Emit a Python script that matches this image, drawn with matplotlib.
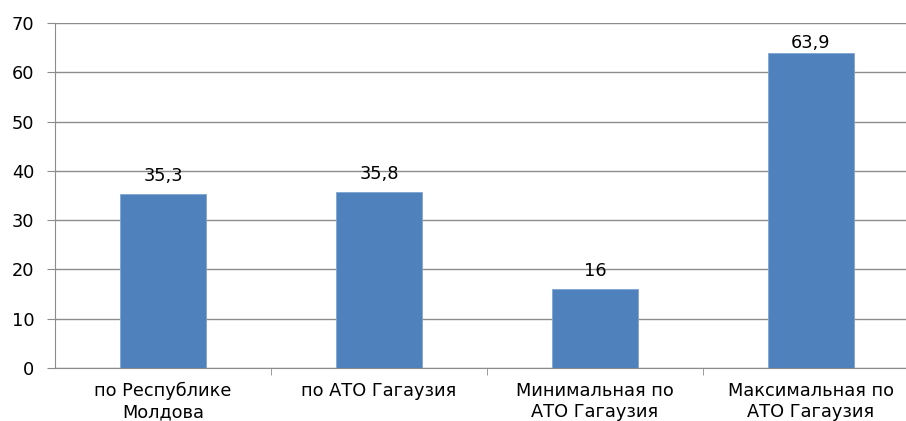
import matplotlib.pyplot as plt
import numpy as np

categories = ["по Республике\nМолдова", "по АТО Гагаузия",
              "Минимальная по\nАТО Гагаузия", "Максимальная по\nАТО Гагаузия"]
values = [35.3, 35.8, 16, 63.9]
value_labels = ["35,3", "35,8", "16", "63,9"]
yticks = [0, 10, 20, 30, 40, 50, 60, 70]

grid_color = "#8c8c8c"
bar_color = "#4f81bd"
fs = 12.8

fig = plt.figure(figsize=(9.06, 4.21), dpi=100)
ax = fig.add_axes([55 / 906, 53 / 421, 864 / 906, 345 / 421])

x = np.arange(len(categories))
bars = ax.bar(x, values, width=0.4, color=bar_color, edgecolor="#7fa4d3", linewidth=0.6, zorder=3)
for b, lab in zip(bars, value_labels):
    # label just above the bar, kept inside the plot near the top
    ly = min(b.get_height() + 3.65, 66)
    ax.text(b.get_x() + b.get_width() / 2, ly, lab,
            ha="center", va="center", fontsize=fs, color="black")

ax.set_xlim(-0.5, 3.5)
ax.set_ylim(0, 70)
ax.set_yticks(yticks)
ax.set_yticklabels([str(t) for t in yticks], fontsize=fs)
ax.yaxis.grid(True, color=grid_color, linewidth=1, zorder=0)

ax.set_xticks(x)
ax.set_xticklabels(categories, fontsize=fs, linespacing=1.2)
ax.tick_params(axis="x", which="major", length=0, pad=10)
ax.set_xticks(np.arange(0.5, 3.5, 1), minor=True)
ax.tick_params(axis="x", which="minor", length=5, color=grid_color, direction="out")
ax.tick_params(axis="y", length=6, color=grid_color, pad=9)

for s in ["top", "right"]:
    ax.spines[s].set_visible(False)
for s in ["left", "bottom"]:
    ax.spines[s].set_color(grid_color)

fig.savefig("out.png", dpi=100)
